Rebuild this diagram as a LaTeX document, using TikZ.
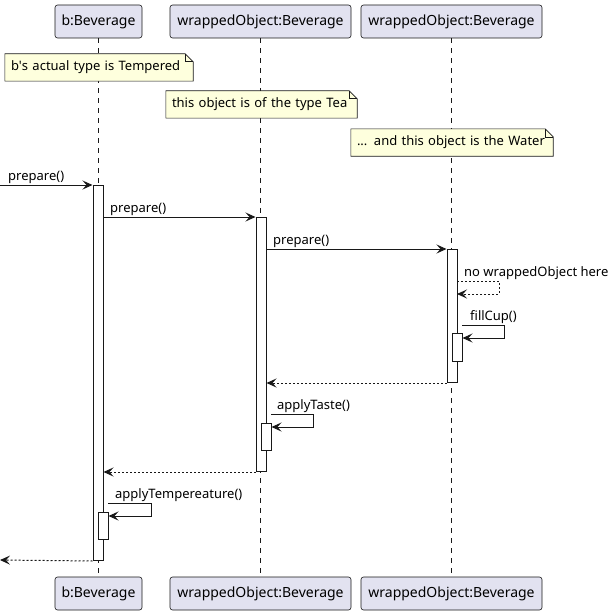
\documentclass[tikz,border=0pt]{standalone}
\usepackage{fontspec}
\setmainfont{Noto Sans}
\usetikzlibrary{arrows.meta,backgrounds}
\definecolor{partfill}{HTML}{E2E2F0}
\definecolor{linec}{HTML}{181818}
\definecolor{notefill}{HTML}{FEFFDD}
\tikzset{
  part/.style={draw=linec, fill=partfill, rounded corners=2.5pt, line width=0.6pt,
    minimum height=33pt, inner sep=0pt, font=\fontsize{14}{16}\selectfont},
  life/.style={draw=linec, line width=0.6pt, dash pattern=on 5pt off 5pt},
  act/.style={draw=linec, fill=white, line width=1pt, minimum width=10pt, inner sep=0pt, anchor=north},
  notebox/.style={inner xsep=6pt, inner ysep=0pt, minimum height=27pt, align=left,
    font=\fontsize{13}{15}\selectfont},
  notefrm/.style={draw=linec, fill=notefill, line width=0.6pt},
  msg/.style={draw=linec, line width=1pt, -{Stealth[length=10pt,width=9pt,inset=4pt]}},
  ret/.style={msg, dash pattern=on 2pt off 2pt},
  lbl/.style={anchor=base west, inner sep=0pt, font=\fontsize{13}{15}\selectfont}
}
\newcommand{\notefold}[1]{%
  \begin{pgfonlayer}{background}
  \path[notefrm] (#1.south west) -- (#1.north west) -- ([xshift=-8pt]#1.north east)
    -- ([yshift=-8pt]#1.north east) -- (#1.south east) -- cycle;
  \draw[linec, line width=0.6pt] ([xshift=-8pt]#1.north east) -- ([xshift=-8pt,yshift=-8pt]#1.north east)
    -- ([yshift=-8pt]#1.north east);
  \end{pgfonlayer}}
\begin{document}
\begin{tikzpicture}[x=1pt,y=-1pt]
\useasboundingbox (0,0) rectangle (614,615);
% participants
\node[part, minimum width=87pt] (bt) at (98.5,21.5) {b:Beverage};
\node[part, minimum width=181pt] (w2t) at (260.5,21.5) {wrappedObject:Beverage};
\node[part, minimum width=181pt] (w3t) at (451.5,21.5) {wrappedObject:Beverage};
\node[part, minimum width=87pt] (bb) at (98.5,593.5) {b:Beverage};
\node[part, minimum width=181pt] (w2b) at (260.5,593.5) {wrappedObject:Beverage};
\node[part, minimum width=181pt] (w3b) at (451.5,593.5) {wrappedObject:Beverage};
% lifelines (background, below the notes)
\begin{pgfonlayer}{background}
\draw[life] (bt.south) -- (bb.north);
\draw[life] (w2t.south) -- (w2b.north);
\draw[life] (w3t.south) -- (w3b.north);
\end{pgfonlayer}
% notes
\node[notebox, minimum width=188pt, text width=176pt] (n1) at (99,67.5) {b\textquotesingle s actual type is Tempered};
\notefold{n1}
\node[notebox, minimum width=191pt, text width=179pt] (n2) at (261.5,104.5) {this object is of the type Tea};
\notefold{n2}
\node[notebox, minimum width=202pt, text width=190pt] (n3) at (452,142.5) {... and this object is the Water};
\notefold{n3}
% activations
\node[act, minimum height=375pt] (ab) at (98,185) {};
\node[act, minimum height=254pt] (aw2) at (261,217) {};
\node[act, minimum height=133pt] (aw3) at (452,249) {};
\node[act, minimum height=28pt] (aw3n) at (457,333) {};
\node[act, minimum height=27pt] (aw2n) at (266,423) {};
\node[act, minimum height=27pt] (abn) at (103,512) {};
% messages
\coordinate (start) at (0,185);
\draw[msg] (start) -- (ab.north west);
\node[lbl] (l1) at (8,180) {prepare()};
\draw[msg] (ab.east |- aw2.north) -- (aw2.north west);
\node[lbl] (l2) at (110,212) {prepare()};
\draw[msg] (aw2.east |- aw3.north) -- (aw3.north west);
\node[lbl] (l3) at (273,244) {prepare()};
% self dashed
\coordinate (s1a) at (457,281);
\coordinate (s1b) at (499,281);
\coordinate (s1c) at (499,294);
\coordinate (s1d) at (457,294);
\draw[ret] (s1a) -- (s1b) -- (s1c) -- (s1d);
\node[lbl] (l4) at (464,276) {no wrappedObject here};
% fillCup
\coordinate (f1a) at (462,325);
\coordinate (f1b) at (504,325);
\coordinate (f1c) at (504,338);
\draw[msg] (f1a) -- (f1b) -- (f1c) -- (aw3n.east |- f1c);
\node[lbl] (l5) at (470,320) {fillCup()};
% return w3 -> w2
\draw[ret] (aw3.south west) -- (aw2.east |- aw3.south);
% applyTaste
\coordinate (t1a) at (271,414);
\coordinate (t1b) at (313,414);
\coordinate (t1c) at (313,427);
\draw[msg] (t1a) -- (t1b) -- (t1c) -- (aw2n.east |- t1c);
\node[lbl] (l6) at (277,409) {applyTaste()};
% return w2 -> b
\draw[ret] (aw2.south west) -- (ab.east |- aw2.south);
% applyTempereature
\coordinate (p1a) at (108,503);
\coordinate (p1b) at (151,503);
\coordinate (p1c) at (151,516);
\draw[msg] (p1a) -- (p1b) -- (p1c) -- (abn.east |- p1c);
\node[lbl] (l7) at (115,498) {applyTempereature()};
% final return
\coordinate (endp) at (0,560);
\draw[ret] (ab.south west) -- (endp);
\end{tikzpicture}
\end{document}
